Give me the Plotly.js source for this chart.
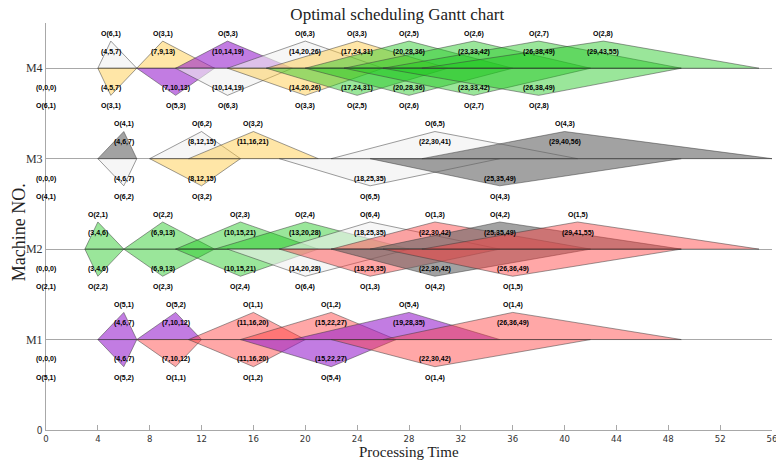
<!DOCTYPE html>
<html><head><meta charset="utf-8">
<script src="https://cdn.plot.ly/plotly-3.0.1.min.js"></script>
<style>html,body{margin:0;padding:0;background:#fff}#chart{width:776px;height:460px}</style>
</head><body><div id="chart"></div>
<script>
// ---- data ----
const machineNames = ['M1','M2','M3','M4'];
const machineLevels = [1,2,3,4];
const xTicks = [0,4,8,12,16,20,24,28,32,36,40,44,48,52,56];

const m1Ops   = ['O(5,1)','O(5,2)','O(1,1)','O(1,2)','O(5,4)','O(1,4)'];
const m1Start = [[0,0,0],[4,6,7],[7,10,12],[11,16,20],[15,22,27],[22,30,42]];
const m1End   = [[4,6,7],[7,10,12],[11,16,20],[15,22,27],[19,28,35],[26,36,49]];

const m2Ops   = ['O(2,1)','O(2,2)','O(2,3)','O(2,4)','O(6,4)','O(1,3)','O(4,2)','O(1,5)'];
const m2Start = [[0,0,0],[3,4,6],[6,9,13],[10,15,21],[14,20,28],[18,25,35],[22,30,42],[26,36,49]];
const m2End   = [[3,4,6],[6,9,13],[10,15,21],[13,20,28],[18,25,35],[22,30,42],[25,35,49],[29,41,55]];

const m3Ops   = ['O(4,1)','O(6,2)','O(3,2)','O(6,5)','O(4,3)'];
const m3Start = [[0,0,0],[4,6,7],[8,12,15],[18,25,35],[25,35,49]];
const m3End   = [[4,6,7],[8,12,15],[11,16,21],[22,30,41],[29,40,56]];

const m4Ops   = ['O(6,1)','O(3,1)','O(5,3)','O(6,3)','O(3,3)','O(2,5)','O(2,6)','O(2,7)','O(2,8)'];
const m4Start = [[0,0,0],[4,5,7],[7,10,13],[10,14,19],[14,20,26],[17,24,31],[20,28,36],[23,33,42],[26,38,49]];
const m4End   = [[4,5,7],[7,9,13],[10,14,19],[14,20,26],[17,24,31],[20,28,36],[23,33,42],[26,38,49],[29,43,55]];

const jobColors = {
  1:'rgba(255,60,60,0.45)',
  2:'rgba(30,200,30,0.45)',
  3:'rgba(255,200,60,0.45)',
  4:'rgba(100,100,100,0.6)',
  5:'rgba(150,30,205,0.58)',
  6:'rgba(240,240,240,0.6)'
};

// ---- build ----
const machinesData = [
  {ops:m1Ops, st:m1Start, en:m1End},
  {ops:m2Ops, st:m2Start, en:m2End},
  {ops:m3Ops, st:m3Start, en:m3End},
  {ops:m4Ops, st:m4Start, en:m4End}
];
const H = 0.3;
const traces = [];
const ann = [];
const lblFont = {family:'Liberation Sans, Arial, sans-serif', size:7, color:'#000'};
function tri(f, lvl, dir, job){
  traces.push({type:'scatter', mode:'lines', x:[f[0],f[1],f[2],f[0]],
    y:[lvl, lvl+dir*H, lvl, lvl], fill:'toself', fillcolor:jobColors[job],
    line:{color:'rgba(60,60,60,0.85)', width:0.6}, hoverinfo:'skip', showlegend:false});
}
function lab(x, y, t){
  ann.push({x:x, y:y, xref:'x', yref:'y', text:'<b>'+t+'</b>', showarrow:false, font:lblFont, xanchor:'center', yanchor:'middle'});
}
machinesData.forEach((m, k) => {
  const lvl = machineLevels[k];
  m.ops.forEach((op, i) => {
    const job = parseInt(op.charAt(2));
    const s = m.st[i], e = m.en[i];
    if (i > 0) {
      tri(s, lvl, -1, job);
      lab(s[1], lvl-0.22, '('+s.join(',')+')');
      lab(s[1], lvl-0.42, op);
    } else {
      lab(0, lvl-0.22, '('+s.join(',')+')');
      lab(0, lvl-0.42, op);
    }
    tri(e, lvl, 1, job);
    lab(e[1], lvl+0.38, op);
    lab(e[1], lvl+0.18, '('+e.join(',')+')');
  });
});

ann.push({xref:'paper', yref:'paper', x:0.5, y:-0.0535, text:'Processing Time', showarrow:false,
  font:{family:'Liberation Serif, Times New Roman, serif', size:15, color:'#222'}, xanchor:'center', yanchor:'middle'});
ann.push({xref:'paper', yref:'paper', x:-0.037, y:0.4865, text:'Machine NO.', textangle:-90, showarrow:false,
  font:{family:'Liberation Serif, Times New Roman, serif', size:18, color:'#222'}, xanchor:'center', yanchor:'middle'});

const layout = {
  width:776, height:460,
  margin:{l:46, r:4, t:23, b:30},
  paper_bgcolor:'#fff', plot_bgcolor:'#fff',
  showlegend:false,
  title:{text:'Optimal scheduling Gantt chart', x:0.512, xanchor:'center', y:1-14/460, yanchor:'middle', yref:'container',
    font:{family:'Liberation Serif, Times New Roman, serif', size:17, color:'#222'}},
  xaxis:{range:[0,56], tickvals:xTicks, ticktext:xTicks.map(String), ticks:'inside', ticklen:5, tickcolor:'#a8a8a8',
    showline:true, linecolor:'#a8a8a8', showgrid:false, zeroline:false, ticklabeloverflow:'allow',
    tickfont:{family:'Liberation Sans Narrow, DejaVu Sans Condensed, sans-serif', size:9.5, color:'#333'}},
  yaxis:{range:[0,4.5], tickvals:[0].concat(machineLevels),
    ticktext:['<span style="font-family:Liberation Sans Narrow, DejaVu Sans Condensed, sans-serif;font-size:10px">0</span>'].concat(machineNames),
    showgrid:true, gridcolor:'#a8a8a8', gridwidth:1, showline:true, linecolor:'#a8a8a8', zeroline:false, ticks:'',
    tickfont:{family:'Liberation Serif, Times New Roman, serif', size:12, color:'#333'}},
  annotations:ann
};
Plotly.newPlot('chart', traces, layout, {displayModeBar:false, staticPlot:true});
</script>
</body></html>
